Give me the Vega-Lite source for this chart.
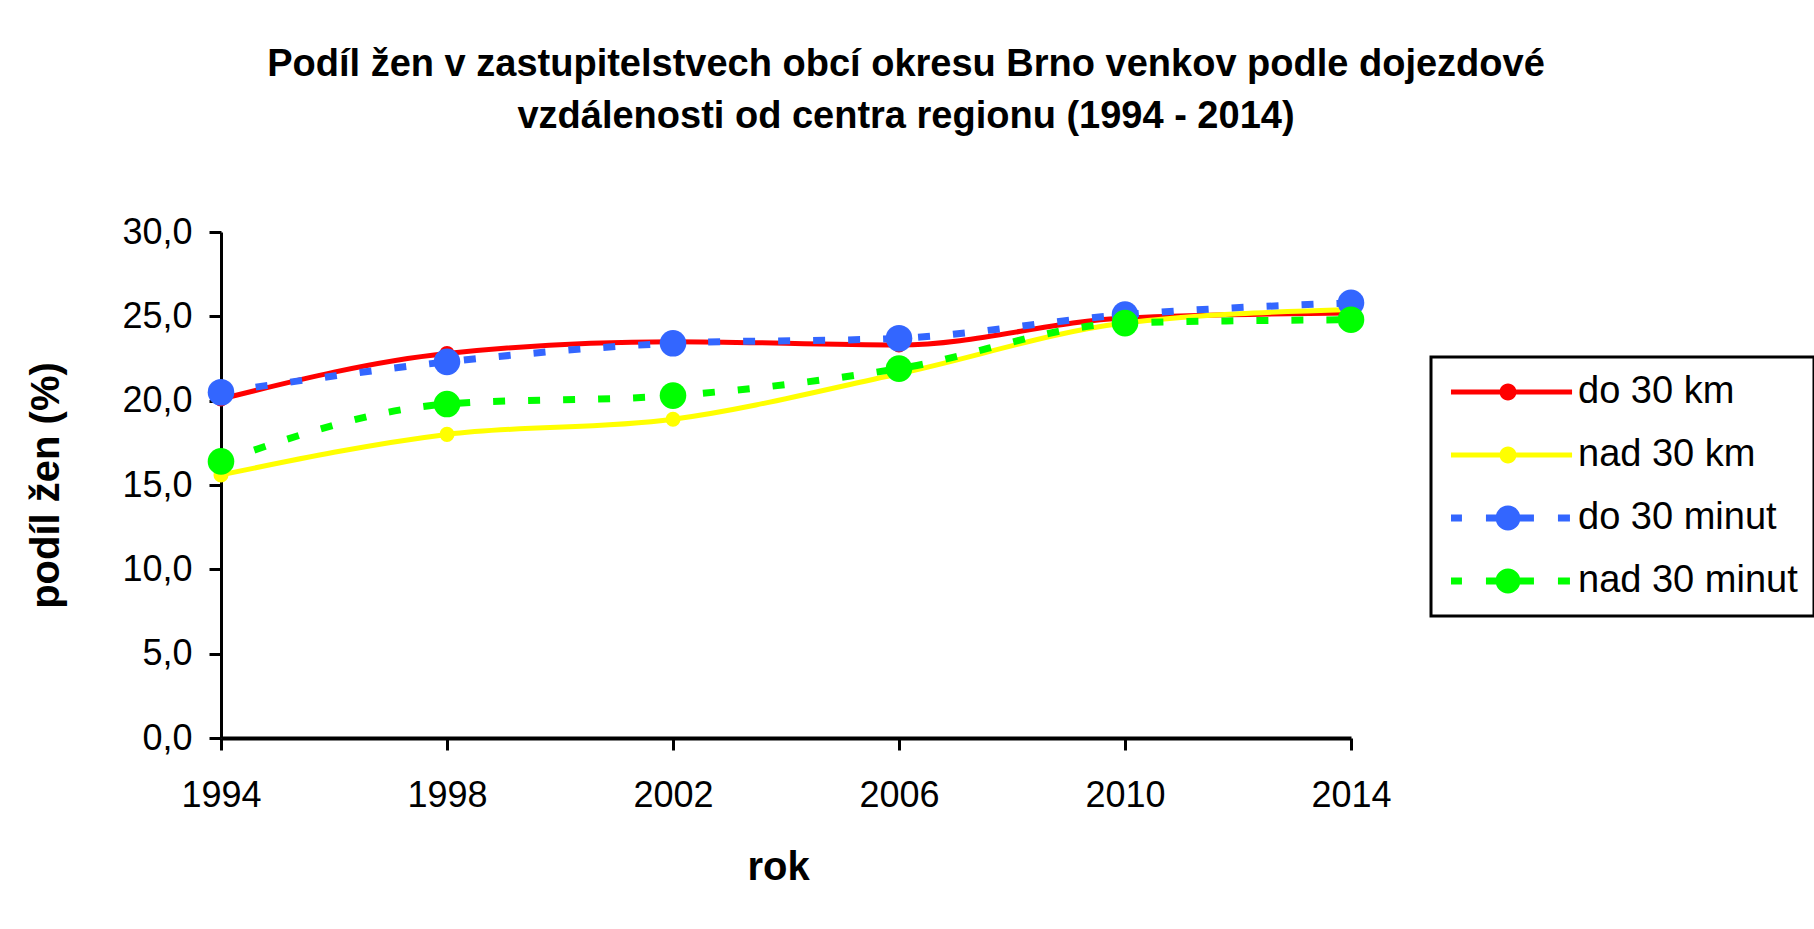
{
  "$schema": "https://vega.github.io/schema/vega-lite/v6.json",
  "autosize": {"type": "none"},
  "width": 1130,
  "height": 506,
  "padding": {"left": 221, "top": 232, "right": 463, "bottom": 191},
  "background": "white",
  "config": {"font": "Liberation Sans", "view": {"stroke": null}},
  "title": {
    "text": ["Podíl žen v zastupitelstvech obcí okresu Brno venkov podle dojezdové", "vzdálenosti od centra regionu (1994 - 2014)"],
    "fontSize": 38,
    "fontWeight": "bold",
    "color": "black",
    "anchor": "middle",
    "frame": "group",
    "dx": 120,
    "lineHeight": 52,
    "offset": 78
  },
  "data": {
    "values": [
      {"rok": 1994, "podil": 20.1, "serie": "do 30 km"},
      {"rok": 1998, "podil": 22.8, "serie": "do 30 km"},
      {"rok": 2002, "podil": 23.5, "serie": "do 30 km"},
      {"rok": 2006, "podil": 23.3, "serie": "do 30 km"},
      {"rok": 2010, "podil": 24.9, "serie": "do 30 km"},
      {"rok": 2014, "podil": 25.2, "serie": "do 30 km"},
      {"rok": 1994, "podil": 15.6, "serie": "nad 30 km"},
      {"rok": 1998, "podil": 18.0, "serie": "nad 30 km"},
      {"rok": 2002, "podil": 18.9, "serie": "nad 30 km"},
      {"rok": 2006, "podil": 21.6, "serie": "nad 30 km"},
      {"rok": 2010, "podil": 24.6, "serie": "nad 30 km"},
      {"rok": 2014, "podil": 25.4, "serie": "nad 30 km"},
      {"rok": 1994, "podil": 20.5, "serie": "do 30 minut"},
      {"rok": 1998, "podil": 22.3, "serie": "do 30 minut"},
      {"rok": 2002, "podil": 23.4, "serie": "do 30 minut"},
      {"rok": 2006, "podil": 23.7, "serie": "do 30 minut"},
      {"rok": 2010, "podil": 25.1, "serie": "do 30 minut"},
      {"rok": 2014, "podil": 25.8, "serie": "do 30 minut"},
      {"rok": 1994, "podil": 16.4, "serie": "nad 30 minut"},
      {"rok": 1998, "podil": 19.8, "serie": "nad 30 minut"},
      {"rok": 2002, "podil": 20.3, "serie": "nad 30 minut"},
      {"rok": 2006, "podil": 21.9, "serie": "nad 30 minut"},
      {"rok": 2010, "podil": 24.6, "serie": "nad 30 minut"},
      {"rok": 2014, "podil": 24.8, "serie": "nad 30 minut"}
    ]
  },
  "encoding": {
    "x": {
      "field": "rok",
      "type": "quantitative",
      "scale": {"domain": [1994, 2014], "zero": false, "nice": false},
      "axis": {
        "values": [1994, 1998, 2002, 2006, 2010, 2014],
        "format": "d",
        "title": "rok",
        "titleFontSize": 40,
        "titleFontWeight": "bold",
        "titleColor": "black",
        "titleX": 557,
        "titleY": 129,
        "titleBaseline": "middle",
        "titleAlign": "center",
        "labelFontSize": 36,
        "labelColor": "black",
        "labelPadding": 28,
        "labelFlush": false,
        "labelOverlap": false,
        "tickSize": 12,
        "tickWidth": 3,
        "tickColor": "black",
        "domainColor": "black",
        "domainWidth": 4,
        "grid": false
      }
    },
    "y": {
      "field": "podil",
      "type": "quantitative",
      "scale": {"domain": [0, 30], "nice": false},
      "axis": {
        "values": [0, 5, 10, 15, 20, 25, 30],
        "labelExpr": "replace(format(datum.value, '.1f'), '.', ',')",
        "title": "podíl žen (%)",
        "titleFontSize": 40,
        "titleFontWeight": "bold",
        "titleColor": "black",
        "titleX": -175,
        "titleY": 253,
        "titleAngle": -90,
        "titleBaseline": "middle",
        "titleAlign": "center",
        "labelFontSize": 36,
        "labelColor": "black",
        "labelPadding": 17,
        "labelFlush": false,
        "labelOverlap": false,
        "tickSize": 12,
        "tickWidth": 3,
        "tickColor": "black",
        "domainColor": "black",
        "domainWidth": 3,
        "grid": false
      }
    },
    "color": {
      "field": "serie",
      "type": "nominal",
      "scale": {
        "domain": ["do 30 km", "nad 30 km", "do 30 minut", "nad 30 minut"],
        "range": ["#ff0000", "#ffff00", "#3366ff", "#00ff00"]
      },
      "legend": {
        "title": null,
        "orient": "none",
        "legendX": 1210,
        "legendY": 125,
        "padding": 16,
        "strokeColor": "black",
        "fillColor": "white",
        "symbolSize": 900,
        "symbolStrokeWidth": 0,
        "labelFontSize": 38,
        "labelColor": "black",
        "labelOffset": 93,
        "labelLimit": 400,
        "rowPadding": 25,
        "encode": {
          "legend": {"update": {"strokeWidth": {"value": 3}}},
          "symbols": {
            "update": {
              "shape": {"signal": "(datum.value === 'do 30 km' || datum.value === 'nad 30 km') ? 'M-1,-0.167L7.07,-0.167L7.07,0.167L-1,0.167Z M3.367,0A0.567,0.567 0 1,1 2.233,0A0.567,0.567 0 1,1 3.367,0Z' : 'M-1,-0.233L-0.27,-0.233L-0.27,0.233L-1,0.233Z M1.33,-0.233L4.53,-0.233L4.53,0.233L1.33,0.233Z M6.13,-0.233L6.93,-0.233L6.93,0.233L6.13,0.233Z M3.63,0A0.83,0.83 0 1,1 1.97,0A0.83,0.83 0 1,1 3.63,0Z'"},
              "fill": {"signal": "scale('color', datum.value)"},
              "stroke": {"value": "transparent"},
              "opacity": {"value": 1},
              "fillOpacity": {"value": 1}
            }
          }
        }
      }
    }
  },
  "layer": [
    {
      "transform": [{"filter": {"field": "serie", "oneOf": ["do 30 km", "nad 30 km"]}}],
      "mark": {"type": "line", "interpolate": "monotone", "strokeWidth": 5}
    },
    {
      "transform": [{"filter": {"field": "serie", "oneOf": ["do 30 minut", "nad 30 minut"]}}],
      "mark": {"type": "line", "interpolate": "monotone", "strokeWidth": 7, "strokeDash": [12, 23], "strokeCap": "butt"}
    },
    {
      "transform": [{"filter": {"field": "serie", "oneOf": ["do 30 km", "nad 30 km"]}}],
      "mark": {"type": "point", "shape": "circle", "filled": true, "size": 227, "opacity": 1}
    },
    {
      "transform": [{"filter": {"field": "serie", "oneOf": ["do 30 minut", "nad 30 minut"]}}],
      "mark": {"type": "point", "shape": "circle", "filled": true, "size": 707, "opacity": 1}
    }
  ]
}
